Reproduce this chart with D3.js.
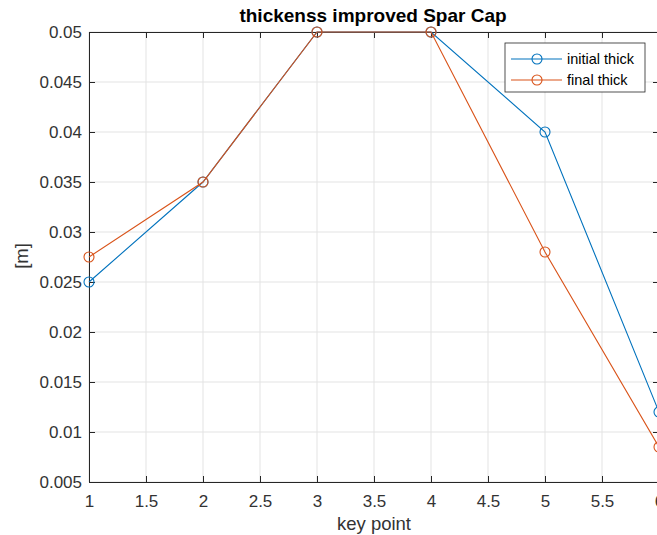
<!DOCTYPE html>
<html>
<head>
<meta charset="utf-8">
<script src="https://cdn.jsdelivr.net/npm/d3@7"></script>
<style>
body { margin: 0; background: #fff; }
svg { display: block; font-family: "Liberation Sans", Arial, sans-serif; }
</style>
</head>
<body>
<svg id="chart" width="657" height="535"></svg>
<script>
var keyPoints = [1, 2, 3, 4, 5, 6];
var initialThick = [0.025, 0.035, 0.05, 0.05, 0.04, 0.012];
var finalThick = [0.0275, 0.035, 0.05, 0.05, 0.028, 0.0085];
var xTicks = [1, 1.5, 2, 2.5, 3, 3.5, 4, 4.5, 5, 5.5, 6];
var yTicks = [0.005, 0.01, 0.015, 0.02, 0.025, 0.03, 0.035, 0.04, 0.045, 0.05];
var seriesNames = ["initial thick", "final thick"];
var seriesColors = ["#0072BD", "#D95319"];

var svg = d3.select("#chart"),
    margin = {top: 32, left: 89},
    width = 570,
    height = 450,
    g = svg.append("g").attr("transform", "translate(" + margin.left + "," + margin.top + ")");

var x = d3.scaleLinear().domain([1, 6]).range([0, width]);
var y = d3.scaleLinear().domain([0.005, 0.05]).range([height, 0]);

// grid
g.append("g").selectAll("line").data(xTicks).enter().append("line")
    .attr("x1", d => x(d)).attr("x2", d => x(d))
    .attr("y1", 0).attr("y2", height)
    .attr("stroke", "#e3e3e3").attr("stroke-width", 1);
g.append("g").selectAll("line").data(yTicks).enter().append("line")
    .attr("y1", d => y(d)).attr("y2", d => y(d))
    .attr("x1", 0).attr("x2", width)
    .attr("stroke", "#e3e3e3").attr("stroke-width", 1);

// axes (box with inner ticks)
var fmt = d => String(+d.toFixed(4));
var xAxis = g.append("g").attr("transform", "translate(0," + height + ")")
    .call(d3.axisBottom(x).tickValues(xTicks).tickFormat(fmt).tickSizeInner(-6).tickSizeOuter(0).tickPadding(13));
var yAxis = g.append("g")
    .call(d3.axisLeft(y).tickValues(yTicks).tickFormat(fmt).tickSizeInner(-6).tickSizeOuter(0).tickPadding(7));
var xTop = g.append("g")
    .call(d3.axisTop(x).tickValues(xTicks).tickFormat("").tickSizeInner(-6).tickSizeOuter(0));
var yRight = g.append("g").attr("transform", "translate(" + width + ",0)")
    .call(d3.axisRight(y).tickValues(yTicks).tickFormat("").tickSizeInner(-6).tickSizeOuter(0));

[xAxis, yAxis, xTop, yRight].forEach(function (a) {
    a.select(".domain").attr("stroke", "#262626");
    a.selectAll(".tick line").attr("stroke", "#262626");
    a.selectAll("text").attr("fill", "#333").style("font-size", "17px");
});

// series
var line = d3.line().x((d, i) => x(keyPoints[i])).y(d => y(d));
[initialThick, finalThick].forEach(function (s, k) {
    g.append("path").datum(s)
        .attr("fill", "none").attr("stroke", seriesColors[k]).attr("stroke-width", 1.1)
        .attr("d", line);
    g.append("g").selectAll("circle").data(s).enter().append("circle")
        .attr("cx", (d, i) => x(keyPoints[i])).attr("cy", d => y(d))
        .attr("r", 5).attr("fill", "none")
        .attr("stroke", seriesColors[k]).attr("stroke-width", 1.1);
});

// title and labels
svg.append("text").attr("x", 373).attr("y", 22)
    .attr("text-anchor", "middle").attr("font-weight", "bold").style("font-size", "19px")
    .attr("fill", "#000").text("thickenss improved Spar Cap");
svg.append("text").attr("x", 374).attr("y", 530)
    .attr("text-anchor", "middle").style("font-size", "18.5px")
    .attr("fill", "#333").text("key point");
svg.append("text").attr("transform", "translate(28,256) rotate(-90)")
    .attr("text-anchor", "middle").style("font-size", "18.5px")
    .attr("fill", "#333").text("[m]");

// legend
var leg = svg.append("g").attr("transform", "translate(505,43)");
leg.append("rect").attr("width", 140).attr("height", 49)
    .attr("fill", "#fff").attr("stroke", "#262626").attr("stroke-width", 0.8);
seriesNames.forEach(function (name, k) {
    var ly = 16 + k * 21;
    leg.append("line").attr("x1", 6).attr("x2", 57).attr("y1", ly).attr("y2", ly)
        .attr("stroke", seriesColors[k]).attr("stroke-width", 1.1);
    leg.append("circle").attr("cx", 32).attr("cy", ly).attr("r", 5)
        .attr("fill", "none").attr("stroke", seriesColors[k]).attr("stroke-width", 1.1);
    leg.append("text").attr("x", 62).attr("y", ly + 5).style("font-size", "14.5px")
        .attr("fill", "#000").text(name);
});
</script>
</body>
</html>
